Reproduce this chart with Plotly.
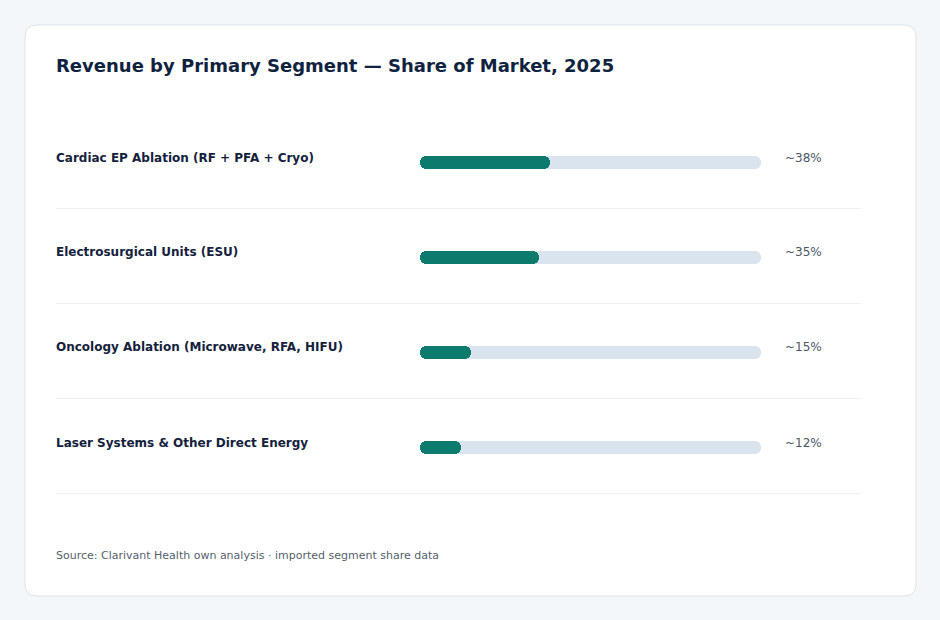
import plotly.graph_objects as go

# ---- data ----
segments = [
    "Cardiac EP Ablation (RF + PFA + Cryo)",
    "Electrosurgical Units (ESU)",
    "Oncology Ablation (Microwave, RFA, HIFU)",
    "Laser Systems & Other Direct Energy",
]
shares = [38, 35, 15, 12]
share_labels = ["~38%", "~35%", "~15%", "~12%"]
scale_max = 100
title_text = "Revenue by Primary Segment — Share of Market, 2025"
source_text = "Source: Clarivant Health own analysis · imported segment share data"

# ---- layout constants (pixels) ----
W, H = 940, 620
FONT = "DejaVu Sans"
TEAL = "#0c7a6c"
TRACK = "#dae4ee"
NAVY = "#0f2340"
GRAY = "#4a5568"

row_y0 = 162.5   # bar centre of first row
row_step = 95
bar_x0, bar_x1 = 420, 761
BAR_H = 12.5

def px(x):
    return x / W

def py(y):
    return 1 - y / H

fig = go.Figure()
rows_y = [row_y0 + i * row_step for i in range(len(segments))]

# track bars (full scale) and value bars, each on its own overlaid axis pair
series = [
    ("track", TRACK, [scale_max] * len(segments)),
    ("value", TEAL, shares),
]
axes_layout = {}
for i, (kind, col, vals) in enumerate(series):
    n = "" if i == 0 else str(i + 1)
    fig.add_trace(go.Bar(
        x=vals, base=[0] * len(vals), y=rows_y, orientation="h", width=BAR_H,
        marker=dict(color=col, line=dict(width=0), cornerradius=6),
        xaxis="x" + n, yaxis="y" + n,
        customdata=[[s, v] for s, v in zip(segments, shares)],
        hovertemplate="%{customdata[0]}: %{customdata[1]}%<extra></extra>",
        hoverinfo="skip" if kind == "track" else None,
        showlegend=False,
    ))
    xa = dict(domain=[bar_x0 / W, bar_x1 / W], range=[0, scale_max],
              visible=False, fixedrange=True)
    ya = dict(domain=[0, 1], range=[H, 0], visible=False, fixedrange=True)
    if i > 0:
        xa["overlaying"] = "x"
        ya["overlaying"] = "y"
    axes_layout["xaxis" + n] = xa
    axes_layout["yaxis" + n] = ya

shapes = []
# card background with rounded corners
cx0, cy0, cx1, cy1, r = 25, 25, 916, 596, 12
path = (
    f"M {px(cx0 + r)},{py(cy0)} L {px(cx1 - r)},{py(cy0)} "
    f"Q {px(cx1)},{py(cy0)} {px(cx1)},{py(cy0 + r)} "
    f"L {px(cx1)},{py(cy1 - r)} Q {px(cx1)},{py(cy1)} {px(cx1 - r)},{py(cy1)} "
    f"L {px(cx0 + r)},{py(cy1)} Q {px(cx0)},{py(cy1)} {px(cx0)},{py(cy1 - r)} "
    f"L {px(cx0)},{py(cy0 + r)} Q {px(cx0)},{py(cy0)} {px(cx0 + r)},{py(cy0)} Z"
)
shapes.append(dict(type="path", path=path, xref="paper", yref="paper",
                   fillcolor="white", line=dict(color="#dde3ea", width=1),
                   layer="below"))
# separators
for yc in rows_y:
    ys = yc + 46
    shapes.append(dict(type="line", xref="paper", yref="paper",
                       x0=px(56), x1=px(861), y0=py(ys), y1=py(ys),
                       line=dict(color="#edf0f4", width=1), layer="below"))

annotations = [
    dict(text=f"<b>{title_text}</b>", x=px(54), y=py(65), xref="paper", yref="paper",
         xanchor="left", yanchor="middle", showarrow=False,
         font=dict(family=FONT, size=18, color=NAVY)),
    dict(text=source_text, x=px(54), y=py(555), xref="paper", yref="paper",
         xanchor="left", yanchor="middle", showarrow=False,
         font=dict(family=FONT, size=11, color="#555f6d")),
]
for seg, lab, yc in zip(segments, share_labels, rows_y):
    annotations.append(dict(text=f"<b>{seg}</b>", x=px(54), y=py(yc - 5),
                            xref="paper", yref="paper", xanchor="left", yanchor="middle",
                            showarrow=False, font=dict(family=FONT, size=12, color="#14213d")))
    annotations.append(dict(text=lab, x=px(783), y=py(yc - 5),
                            xref="paper", yref="paper", xanchor="left", yanchor="middle",
                            showarrow=False, font=dict(family=FONT, size=12, color=GRAY)))

fig.update_layout(
    width=W, height=H,
    margin=dict(l=0, r=0, t=0, b=0),
    paper_bgcolor="#f4f7fa",
    plot_bgcolor="rgba(0,0,0,0)",
    barmode="overlay",
    bargap=0,
    shapes=shapes,
    annotations=annotations,
    font=dict(family=FONT),
    **axes_layout,
)

fig.write_html("out.html")
